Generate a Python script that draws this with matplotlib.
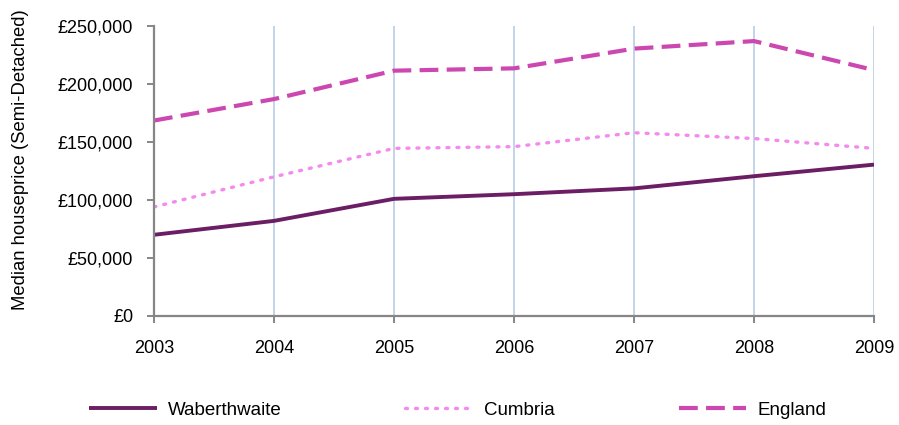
import numpy as np
import matplotlib.pyplot as plt
from matplotlib.ticker import FuncFormatter

plt.rcParams['font.family'] = ['Liberation Sans', 'DejaVu Sans']

# data
years = [2003, 2004, 2005, 2006, 2007, 2008, 2009]
waberthwaite = [70000, 82000, 101000, 105000, 110000, 120500, 130500]
cumbria = [94000, 120000, 144500, 146000, 158000, 153000, 144500]
england = [168500, 187000, 211500, 213500, 230500, 237000, 212000]

fig = plt.figure(figsize=(8.99, 4.25), dpi=100)
ax = fig.add_axes([0.1713, 0.2565, 0.8009, 0.6823])

ax.plot(years, waberthwaite, color='#6B1E63', lw=2.8, label='Waberthwaite',
        solid_capstyle='butt', zorder=3)
ax.plot(years, cumbria, color='#F48AEE', lw=2.4, linestyle=(0, (0.6, 2.4)),
        dash_capstyle='round', label='Cumbria', zorder=3)
ax.plot(years, england, color='#CC48B0', lw=3.0, linestyle=(0, (4.5, 2.0)),
        label='England', zorder=3)

ax.set_xlim(2003, 2009)
ax.set_ylim(0, 250000)
ax.set_xticks(years)
ax.set_yticks(np.arange(0, 250001, 50000))
ax.yaxis.set_major_formatter(FuncFormatter(lambda v, p: '£{:,.0f}'.format(v)))

# vertical gridlines only
ax.grid(axis='x', color='#B9CDE5', lw=1.2)
ax.set_axisbelow(True)

for s in ['top', 'right']:
    ax.spines[s].set_visible(False)
for s in ['left', 'bottom']:
    ax.spines[s].set_color('#868686')
    ax.spines[s].set_linewidth(1.6)
    ax.spines[s].set_zorder(4)

ax.tick_params(axis='both', colors='#868686', labelcolor='black', labelsize=13,
               width=1.4, length=5)
ax.tick_params(axis='x', pad=12)
ax.tick_params(axis='y', pad=10)

ax.set_ylabel('Median houseprice (Semi-Detached)', fontsize=13.3)
ax.yaxis.set_label_coords(-0.173, 0.54)

fig.legend(loc='center', bbox_to_anchor=(0.509, 0.035), ncol=3, frameon=False,
           fontsize=13.5, handlelength=3.6, handletextpad=0.6, columnspacing=6.6)

fig.savefig('out.png', dpi=100)
